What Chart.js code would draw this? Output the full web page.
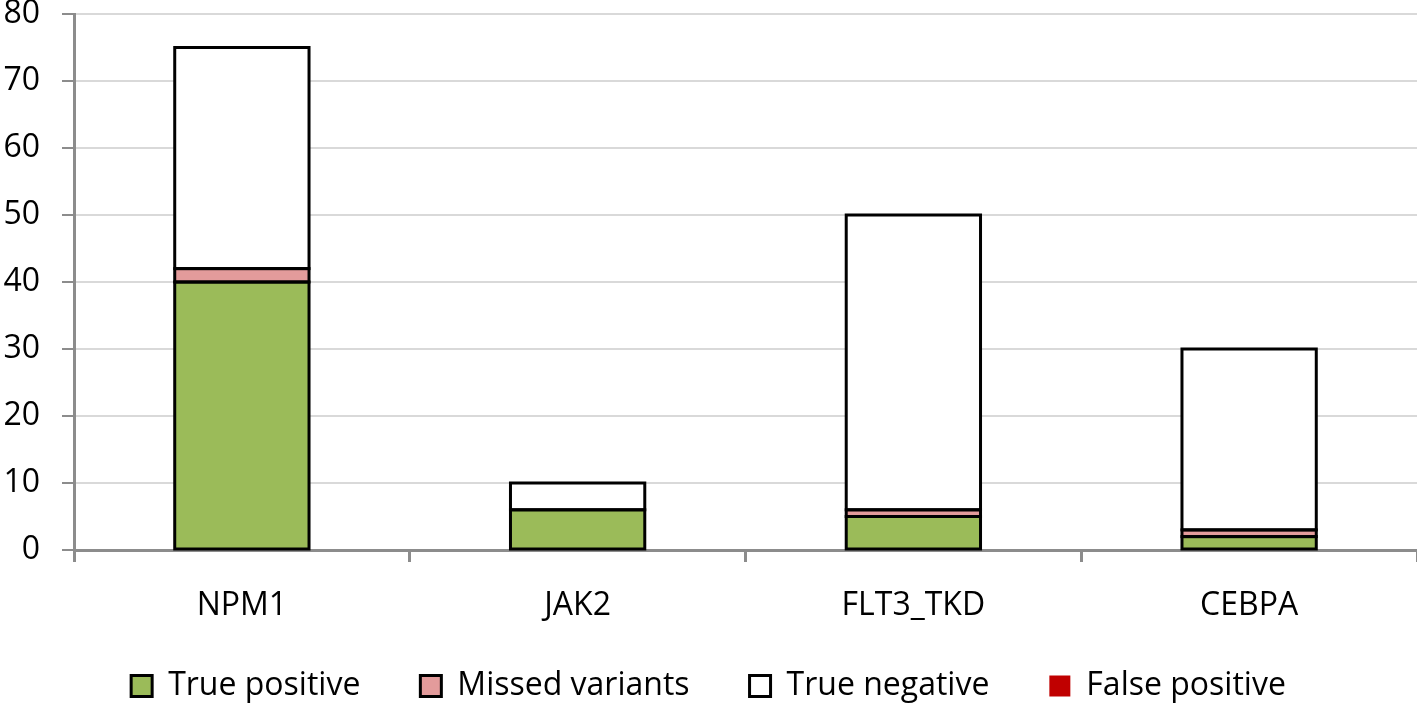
<!DOCTYPE html>
<html>
<head>
<meta charset="utf-8">
<script src="https://cdn.jsdelivr.net/npm/chart.js@4.4.1/dist/chart.umd.min.js"></script>
<style>
  html, body { margin: 0; padding: 0; background: #fff; }
  #wrap { width: 1417px; height: 703px; }
</style>
</head>
<body>
<div id="wrap"><canvas id="chart"></canvas></div>
<script>
// data
const genes = ["NPM1", "JAK2", "FLT3_TKD", "CEBPA"];
const truePositive = [40, 6, 5, 2];
const missedVariants = [2, 0, 1, 1];
const trueNegative = [33, 4, 44, 27];
const falsePositive = [0, 0, 0, 0];
const yTicks = [0, 10, 20, 30, 40, 50, 60, 70, 80];

const font = { family: "'Open Sans', sans-serif", size: 32 };

function segment(label, data, color, outlined) {
  return {
    label: label,
    data: data,
    backgroundColor: color,
    borderWidth: 0,
    outlined: outlined,
    barPercentage: 0.4,
    categoryPercentage: 1.0
  };
}

// excel style outline, centred on the bar edges
const outlinePlugin = {
  id: "outline",
  afterLayout(chart) {
    // let the category labels spill below the axis box
    chart.scales.x.bottom = chart.height;
  },
  afterDatasetsDraw(chart) {
    const ctx = chart.ctx;
    ctx.save();
    ctx.strokeStyle = "#000";
    ctx.lineWidth = 3;
    chart.data.datasets.forEach((ds, i) => {
      if (!ds.outlined) return;
      chart.getDatasetMeta(i).data.forEach(bar => {
        const p = bar.getProps(["x", "y", "base", "width"], true);
        if (Math.abs(p.base - p.y) < 0.5) return;
        ctx.strokeRect(p.x - p.width / 2, Math.min(p.y, p.base),
          p.width, Math.abs(p.base - p.y));
      });
    });
    ctx.restore();
  }
};

new Chart(document.getElementById("chart"), {
  type: "bar",
  data: {
    labels: genes,
    datasets: [
      segment("True positive", truePositive, "#9bbb59", true),
      segment("Missed variants", missedVariants, "#e39b9b", true),
      segment("True negative", trueNegative, "#ffffff", true),
      segment("False positive", falsePositive, "#c00000", false)
    ]
  },
  plugins: [outlinePlugin],
  options: {
    responsive: true,
    maintainAspectRatio: false,
    animation: false,
    layout: { padding: { top: 14, right: 0, left: 0, bottom: -9 } },
    plugins: {
      tooltip: { enabled: false },
      legend: {
        position: "bottom",
        labels: {
          font: font,
          color: "#000",
          boxWidth: 21,
          boxHeight: 21,
          padding: 60,
          generateLabels: chart => chart.data.datasets.map((ds, i) => ({
            text: ds.label,
            fillStyle: ds.backgroundColor,
            strokeStyle: "#000",
            lineWidth: ds.outlined ? 3 : 0,
            fontColor: "#000",
            datasetIndex: i,
            hidden: false
          }))
        }
      }
    },
    scales: {
      x: {
        stacked: true,
        afterFit: axis => { axis.height = 60; },
        grid: {
          offset: true,
          drawOnChartArea: false,
          tickLength: 12,
          tickColor: "#8c8c8c",
          lineWidth: 3
        },
        border: { color: "#8c8c8c", width: 3 },
        ticks: { font: font, color: "#000", padding: 25 }
      },
      y: {
        stacked: true,
        min: 0,
        max: 80,
        afterFit: axis => {
          axis.width = 74;
          axis.paddingTop = 0;
          axis.paddingBottom = 0;
        },
        afterBuildTicks: axis => {
          axis.ticks = yTicks.map(v => ({ value: v }));
        },
        grid: {
          color: "#d9d9d9",
          lineWidth: 2,
          tickLength: 12,
          tickColor: "#8c8c8c"
        },
        border: { color: "#8c8c8c", width: 3 },
        ticks: { font: font, color: "#000", padding: 22 }
      }
    }
  }
});
</script>
</body>
</html>
